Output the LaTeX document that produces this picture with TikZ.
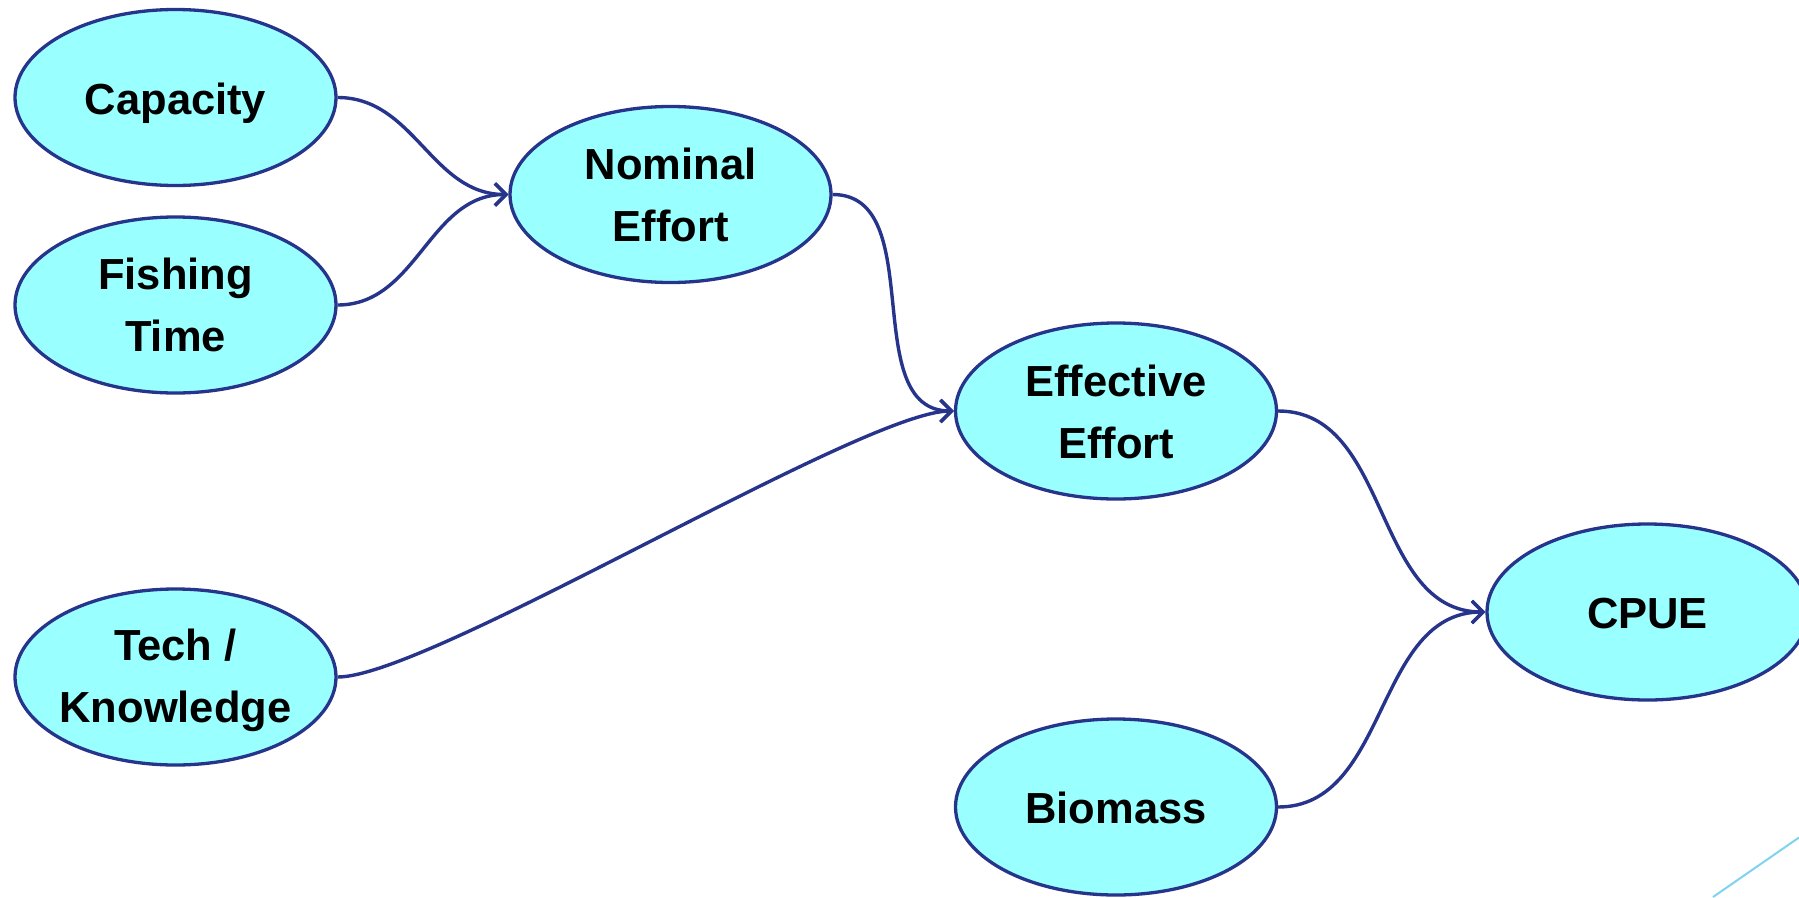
\documentclass[tikz,border=0pt]{standalone}
\usepackage{fontspec}
\setmainfont{Liberation Sans}
\usetikzlibrary{shapes.geometric,arrows.meta}
\definecolor{ovalfill}{HTML}{99FFFF}
\definecolor{ovaldraw}{HTML}{27348B}
\definecolor{accent}{HTML}{7FD3F0}
\begin{document}
\begin{tikzpicture}[x=1pt,y=-1pt,
  oval/.style={ellipse,draw=ovaldraw,fill=ovalfill,line width=3.3pt,minimum width=321pt,minimum height=176pt,inner sep=0pt},
  lbl/.style={font=\fontsize{43.5}{62}\selectfont\bfseries,align=center,text=black,inner sep=0pt},
  conn/.style={draw=ovaldraw,line width=3.4pt,-{Straight Barb[length=11pt,width=22pt]}}]
\useasboundingbox (0,0) rectangle (1799,897);
\clip (0,0) rectangle (1799,897);
\node[oval] (cap) at (175.5,97.5) {};
\node[lbl,text depth=0pt] (capT) at ([yshift=-1pt]cap) {Capacity};
\node[oval] (fish) at (175.5,305) {};
\node[lbl] (fishT) at (fish) {Fishing\\Time};
\node[oval] (tech) at (175.5,677) {};
\node[lbl] (techT) at ([yshift=-3.5pt]tech) {Tech /\\Knowledge};
\node[oval] (nom) at (670.5,194.5) {};
\node[lbl] (nomT) at (nom) {Nominal\\Effort};
\node[oval] (eff) at (1116,411) {};
\node[lbl] (effT) at ([yshift=-1pt]eff) {Effective\\Effort};
\node[oval] (cpue) at (1647.5,612) {};
\node[lbl] (cpueT) at ([yshift=-2pt]cpue) {CPUE};
\node[oval] (bio) at (1116,807) {};
\node[lbl] (bioT) at ([yshift=-1pt]bio) {Biomass};
\draw[conn] (cap.east) to[out=0,in=180] (nom.west);
\draw[conn] (fish.east) to[out=0,in=180] (nom.west);
\draw[conn] (nom.east) to[out=0,in=180] (eff.west);
\draw[conn] (tech.east) to[out=0,in=180,looseness=0.35] (eff.west);
\draw[conn] (eff.east) to[out=0,in=180] (cpue.west);
\draw[conn] (bio.east) to[out=0,in=180] (cpue.west);
\coordinate (accA) at (1713,897);
\coordinate (accB) at (1799,837.5);
\draw[accent,line width=2pt] (accA) -- (accB);
\end{tikzpicture}
\end{document}
